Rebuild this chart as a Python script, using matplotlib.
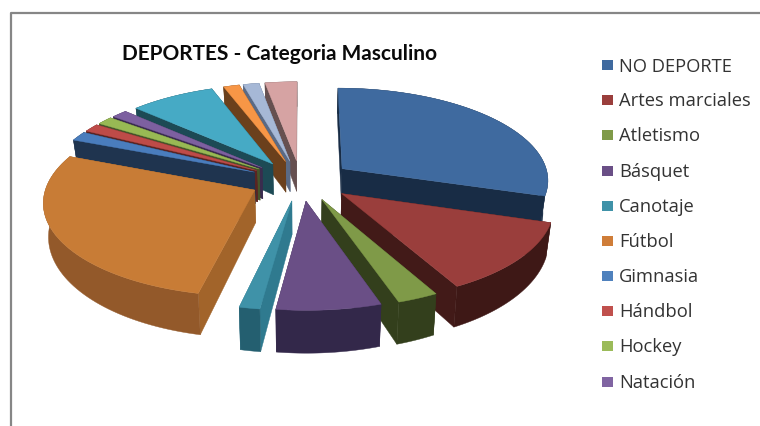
import numpy as np
import matplotlib
matplotlib.use("Agg")
import matplotlib.pyplot as plt
from matplotlib.patches import Rectangle

title = "DEPORTES - Categoria Masculino"
legend_labels = ["NO DEPORTE", "Artes marciales", "Atletismo", "Básquet", "Canotaje",
                 "Fútbol", "Gimnasia", "Hándbol", "Hockey", "Natación"]
values = [29.7, 12.3, 2.8, 7.1, 1.4, 27.5, 1.6, 1.4, 1.4, 1.4, 7.5, 1.4, 1.4, 2.8]

top_colors = ["#3F6A9F", "#9A3E3C", "#7F9A48", "#6A4F86", "#3F92A8", "#C87C36", "#4A7DBD",
              "#BE4B48", "#98B954", "#7D60A0", "#46AAC5", "#F79646", "#A6B8D6", "#D6A3A3"]
side_colors = ["#182C45", "#421A18", "#333F1C", "#3A2C4E", "#2F7A8F", "#A2642A", "#1F344F",
               "#5A2423", "#46552A", "#3A2C4E", "#1D4A55", "#6B401C", "#5A6A85", "#665050"]
rim_colors = ["#182C45", "#3E1816", "#333F1C", "#33284A", "#245F70", "#93592A", "#1F344F",
              "#5A2423", "#46552A", "#3A2C4E", "#1D4A55", "#6B401C", "#5A6A85", "#665050"]
legend_colors = ["#3F6A9F", "#9A3E3C", "#7F9A48", "#6A4F86", "#3F92A8", "#CF7D38", "#4F81BD",
                 "#C0504D", "#9BBB59", "#8064A2"]

CX, CY, RX, RY, PERSP, DEPTH, EXPLODE_U, EXPLODE_V = 301, 181.5, 207, 92, 0.1116, 32, 0.25, 0.22

def project(u, v, z=0.0):
    u, v, z = np.asarray(u, float), np.asarray(v, float), np.asarray(z, float)
    s = 1 / (1 - PERSP * v)
    x = CX + RX * u * s * (1 - 0.02 * z)
    y = CY + RY * v * s + DEPTH * z * s * s
    return x, y

fig = plt.figure(figsize=(7.6, 4.27), dpi=100)
ax = fig.add_axes([0, 0, 1, 1])
ax.set_xlim(0, 760)
ax.set_ylim(427, 0)
ax.axis("off")

shares = np.array(values) / np.sum(values) * 2 * np.pi
ends = np.cumsum(shares)
starts = ends - shares
mids = (starts + ends) / 2

def face(us, vs, zs, color, zorder):
    x, y = project(us, vs, zs)
    ax.fill(x, y, color=color, lw=0.3, zorder=zorder)

order = np.argsort(-np.cos(mids))
for rank, i in enumerate(order):
    a0, a1 = starts[i], ends[i]
    ou, ov = EXPLODE_U * np.sin(mids[i]), -EXPLODE_V * np.cos(mids[i])
    th = np.linspace(a0, a1, 60)
    au, av = ou + np.sin(th), ov - np.cos(th)
    base = 2 + rank * 3
    for a in (a0, a1):
        eu, ev = ou + np.sin(a), ov - np.cos(a)
        face([ou, eu, eu, ou], [ov, ev, ev, ov], [0, 0, 1, 1], side_colors[i], base)
    face(np.r_[au, au[::-1]], np.r_[av, av[::-1]],
         np.r_[np.zeros_like(au), np.ones_like(au)], rim_colors[i], base + 1)
    face(np.r_[ou, au], np.r_[ov, av], np.zeros(len(au) + 1), top_colors[i], base + 2)

# outer frame of the chart
ax.plot([10.5, 10.5, 760], [427, 13.5, 13.5], color="#868686", lw=1.6, zorder=1)

ax.text(279.5, 54, title, ha="center", va="center", fontsize=15.05, fontweight="bold",
        family="Lato", color="#0A0A0A")

leg_y = [66, 101, 136, 172, 207, 242, 277, 312, 347, 383]
for lab, col, y in zip(legend_labels, legend_colors, leg_y):
    ax.add_patch(Rectangle((601.5, y - 5.2), 11.5, 10.5, fc=col, ec="none"))
    ax.text(619, y + 0.5, lab, ha="left", va="center", fontsize=13.25, family="Open Sans", color="#333333")

fig.savefig("out.png", dpi=100)
